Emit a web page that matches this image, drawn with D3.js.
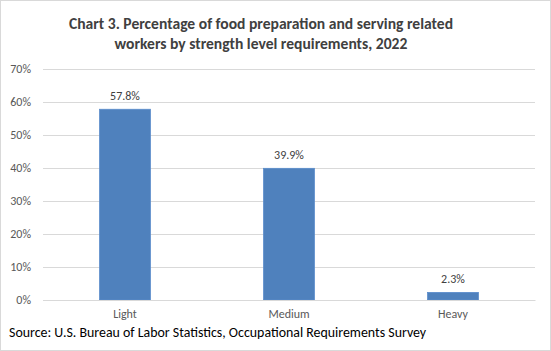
<!DOCTYPE html>
<html><head><meta charset="utf-8">
<script src="https://cdn.jsdelivr.net/npm/d3@7"></script>
<style>body{margin:0;background:#fff}svg{display:block}</style>
</head><body>
<script>
const categories = ["Light", "Medium", "Heavy"];
const values = [57.8, 39.9, 2.3];
const yTicks = [0, 10, 20, 30, 40, 50, 60, 70];
const titleLines = ["Chart 3. Percentage of food preparation and serving related", "workers by strength level requirements, 2022"];
const sourceText = "Source: U.S. Bureau of Labor Statistics, Occupational Requirements Survey";

const W = 551, H = 351;
const svg = d3.select("body").append("svg").attr("width", W).attr("height", H);
svg.append("rect").attr("x", 0.5).attr("y", 0.5).attr("width", W - 1).attr("height", H - 1)
  .attr("fill", "#fff").attr("stroke", "#d9d9d9");

const font = "Carlito, Calibri, Lato, 'Open Sans', sans-serif";
const x = d3.scaleBand().domain(categories).range([43, 535]).padding(0);
const y = d3.scaleLinear().domain([0, 70]).range([300, 69]);

svg.append("g").selectAll("text").data(titleLines).join("text")
  .attr("x", 261).attr("y", (d, i) => 28.5 + i * 20)
  .attr("text-anchor", "middle").attr("font-family", font)
  .attr("font-weight", "bold").attr("font-size", 15.6).attr("fill", "#404040")
  .text(d => d);

const yAxis = d3.axisLeft(y).tickValues(yTicks).tickFormat(d => d + "%").tickSize(-(535 - 43)).tickPadding(12);
const gy = svg.append("g").attr("transform", "translate(43,0)").call(yAxis);
gy.select(".domain").remove();
gy.selectAll(".tick line").attr("stroke", "#d9d9d9");
gy.selectAll(".tick text").attr("font-family", font).attr("font-size", 12).attr("fill", "#595959");

const bw = x.bandwidth() * 0.31;
svg.append("g").selectAll("rect").data(values).join("rect")
  .attr("x", (d, i) => x(categories[i]) + x.bandwidth() / 2 - bw / 2)
  .attr("y", d => y(d)).attr("width", bw).attr("height", d => y(0) - y(d))
  .attr("fill", "#4f81bd").attr("stroke", "#5a8ccb").attr("stroke-width", 0.8);

svg.append("g").selectAll("text").data(values).join("text")
  .attr("x", (d, i) => x(categories[i]) + x.bandwidth() / 2)
  .attr("y", d => y(d) - 9).attr("text-anchor", "middle")
  .attr("font-family", font).attr("font-size", 12).attr("fill", "#404040")
  .text(d => d.toFixed(1) + "%");

const xAxis = d3.axisBottom(x).tickSize(0).tickPadding(9.5);
const gx = svg.append("g").attr("transform", "translate(0,300)").call(xAxis);
gx.select(".domain").attr("stroke", "#d9d9d9");
gx.selectAll(".tick text").attr("font-family", font).attr("font-size", 12).attr("fill", "#595959");

svg.append("text").attr("x", 9).attr("y", 336.5).attr("font-family", font)
  .attr("font-size", 13.9).attr("fill", "#000").text(sourceText);
</script>
</body></html>
